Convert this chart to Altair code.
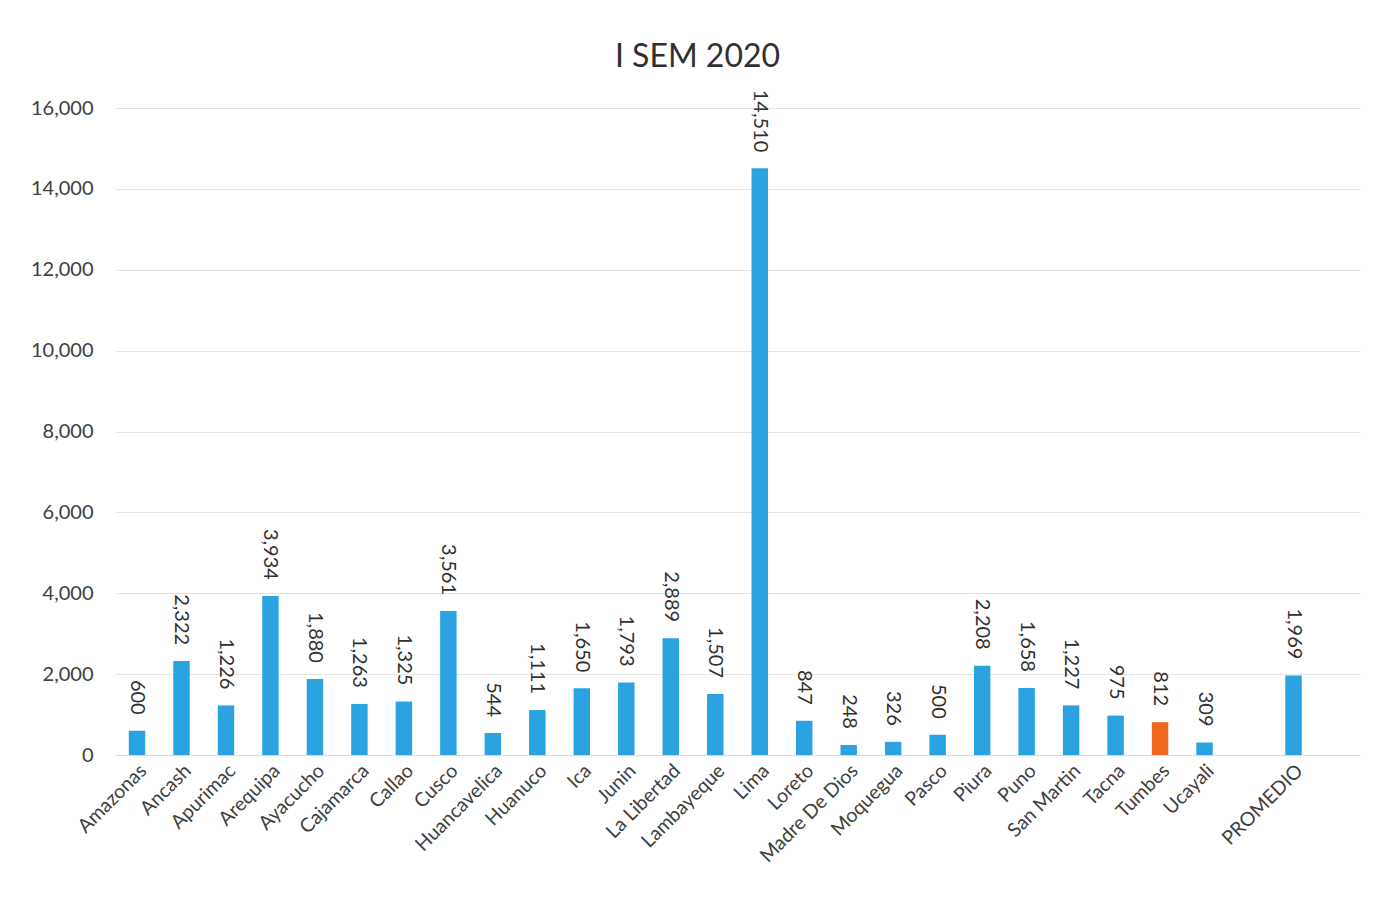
import altair as alt
import pandas as pd

regions = ["Amazonas", "Ancash", "Apurimac", "Arequipa", "Ayacucho", "Cajamarca",
           "Callao", "Cusco", "Huancavelica", "Huanuco", "Ica", "Junin",
           "La Libertad", "Lambayeque", "Lima", "Loreto", "Madre De Dios",
           "Moquegua", "Pasco", "Piura", "Puno", "San Martin", "Tacna",
           "Tumbes", "Ucayali", " ", "PROMEDIO", "  "]
values = [600, 2322, 1226, 3934, 1880, 1263, 1325, 3561, 544, 1111, 1650, 1793,
          2889, 1507, 14510, 847, 248, 326, 500, 2208, 1658, 1227, 975,
          812, 309, None, 1969, None]
groups = ["otros"] * 23 + ["Tumbes", "otros", "otros", "otros", "otros"]

df = pd.DataFrame({"region": regions, "valor": values, "grupo": groups})

x = alt.X("region:N", sort=regions, title=None,
          scale=alt.Scale(paddingInner=0.63, paddingOuter=0.31),
          axis=alt.Axis(labelAngle=-45, labelAlign="right", labelBaseline="top",
                        labelFontSize=19.5, labelColor="#404040", labelFont="Lato",
                        ticks=False, domainColor="#d9d9d9", labelPadding=6))
y = alt.Y("valor:Q", title=None,
          scale=alt.Scale(domain=[0, 16000]),
          axis=alt.Axis(values=list(range(0, 16001, 2000)), format=",.0f",
                        labelFontSize=20, labelColor="#404040", labelFont="Lato",
                        ticks=False, domain=False, gridColor="#e4e4e4",
                        labelPadding=22))

bars = alt.Chart(df).mark_bar().encode(
    x=x, y=y,
    color=alt.Color("grupo:N", scale=alt.Scale(domain=["otros", "Tumbes"],
                                               range=["#2AA3E0", "#F0661E"]),
                    legend=None),
)

labels = alt.Chart(df).transform_filter("datum.valor != null").mark_text(
    angle=90, align="right", baseline="middle", dx=-16, fontSize=20,
    font="Lato", color="#303030"
).encode(x=x, y=y, text=alt.Text("valor:Q", format=",.0f"))

chart = (bars + labels).properties(
    width=1245, height=647,
    title=alt.TitleParams("I SEM 2020", fontSize=32, font="Lato",
                          fontWeight="normal", color="#303030", offset=16,
                          dx=-40),
    padding={"left": 22, "top": 32, "right": 10, "bottom": 5},
).configure_view(stroke=None)

chart.save("out.html", embed_options={"renderer": "svg", "actions": False})
